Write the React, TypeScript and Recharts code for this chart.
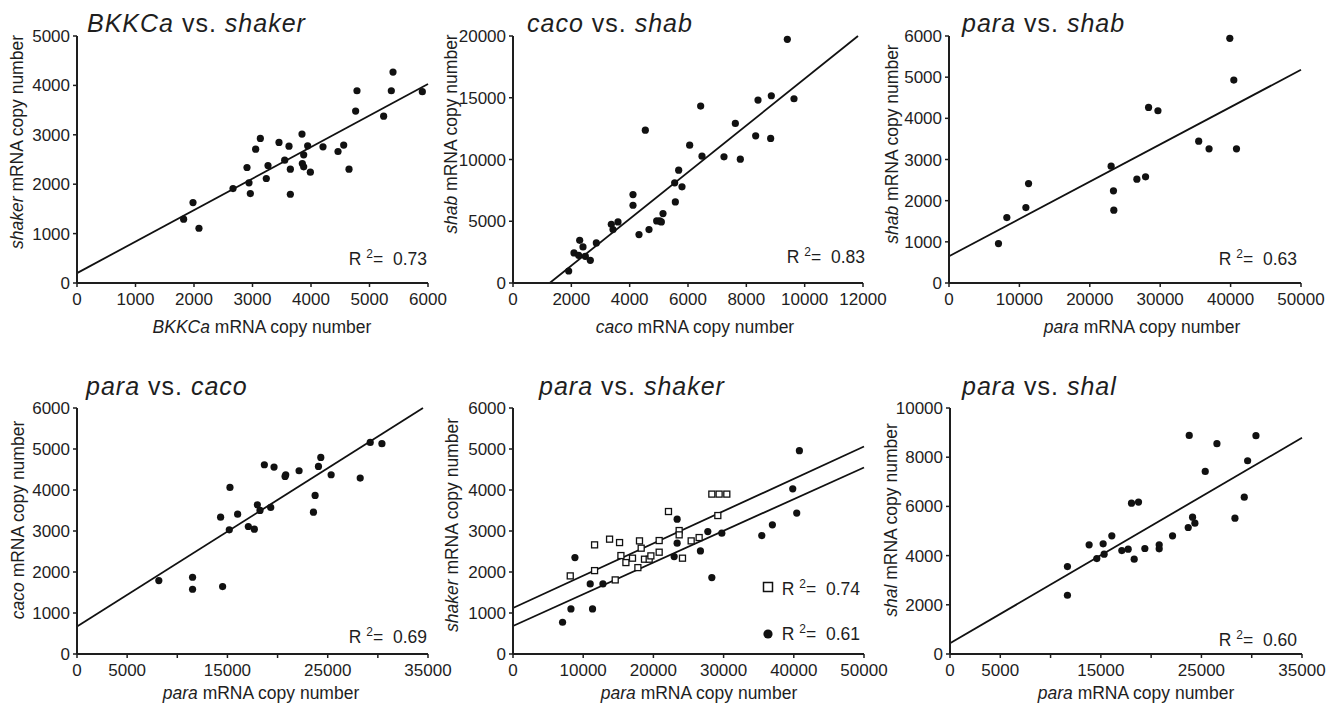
import React from 'react';
import { ScatterChart, Scatter, XAxis, YAxis, ReferenceLine } from 'recharts';

// ---------- Panel 1: BKKCa vs. shaker ----------
const p1X = [1823, 1983, 2085, 2667, 2906, 2940, 2963, 3054, 3134, 3236, 3265, 3453, 3550, 3624, 3647, 3647, 3846, 3852, 3875, 3875, 3943, 3989, 4205, 4462, 4559, 4650, 4763, 4786, 5242, 5373, 5402, 5903];
const p1Y = [1291, 1628, 1108, 1912, 2338, 2027, 1811, 2709, 2926, 2115, 2378, 2845, 2486, 2770, 2304, 1797, 3014, 2419, 2595, 2351, 2777, 2243, 2757, 2662, 2791, 2304, 3480, 3892, 3378, 3892, 4270, 3872];
const p1Line = [[0, 200], [6000, 4028]];
const p1XTicks = [0, 1000, 2000, 3000, 4000, 5000, 6000];
const p1YTicks = [0, 1000, 2000, 3000, 4000, 5000];

// ---------- Panel 2: caco vs. shab ----------
const p2X = [1909, 2091, 2286, 2400, 2251, 2480, 2651, 2857, 3371, 3429, 3600, 4114, 4114, 4320, 4537, 4663, 4926, 5029, 5086, 5143, 5543, 5566, 5680, 5794, 6057, 6434, 6480, 7234, 7623, 7794, 8320, 8400, 8834, 8857, 9406, 9634];
const p2Y = [973, 2432, 3459, 2919, 2243, 2162, 1838, 3243, 4757, 4324, 4946, 7162, 6297, 3919, 12378, 4324, 5027, 5027, 4946, 5622, 8108, 6568, 9135, 7784, 11162, 14324, 10270, 10216, 12919, 10027, 11919, 14811, 11703, 15162, 19730, 14919];
const p2Line = [[1257, 0], [11829, 20000]];
const p2XTicks = [0, 2000, 4000, 6000, 8000, 10000, 12000];
const p2YTicks = [0, 5000, 10000, 15000, 20000];

// ---------- Panel 3: para vs. shab ----------
const p3X = [7028, 8215, 10921, 11301, 23029, 23362, 23409, 26686, 27920, 28348, 29677, 35470, 36942, 39886, 40456, 40836];
const p3Y = [957, 1589, 1832, 2416, 2838, 2238, 1768, 2522, 2578, 4265, 4184, 3446, 3259, 5943, 4930, 3259];
const p3Line = [[0, 650], [50000, 5180]];
const p3XTicks = [0, 10000, 20000, 30000, 40000, 50000];
const p3YTicks = [0, 1000, 2000, 3000, 4000, 5000, 6000];

// ---------- Panel 4: para vs. caco ----------
const p4X = [8159, 11522, 11522, 14319, 14519, 15185, 15252, 16018, 17084, 17683, 17983, 18249, 18682, 19315, 19648, 20814, 20747, 22145, 23577, 23744, 24077, 24310, 25342, 28240, 29239, 30404];
const p4Y = [1791, 1872, 1579, 3338, 1645, 3028, 4062, 3411, 3110, 3045, 3639, 3501, 4616, 3574, 4559, 4372, 4331, 4469, 3460, 3867, 4575, 4795, 4372, 4290, 5161, 5129];
const p4Line = [[0, 668], [34500, 6000]];
const p4XTicks = [0, 5000, 10000, 15000, 20000, 25000, 30000, 35000];
const p4XLabels = [0, 5000, 15000, 25000, 35000];
const p4YTicks = [0, 1000, 2000, 3000, 4000, 5000, 6000];

// ---------- Panel 5: para vs. shaker (two groups) ----------
const p5SqX = [8154, 11620, 11620, 13756, 15179, 14561, 15372, 16084, 17023, 18019, 18260, 17791, 18730, 19399, 19641, 20822, 20822, 22147, 23669, 23669, 24143, 25380, 26516, 28324, 29363, 30457, 29178];
const p5SqY = [1905, 2662, 2034, 2801, 2718, 1807, 2401, 2230, 2337, 2759, 2581, 2107, 2312, 2312, 2393, 2767, 2483, 3475, 3011, 2906, 2337, 2759, 2840, 3900, 3900, 3900, 3377];
const p5DotX = [7059, 8254, 8823, 11000, 11330, 12810, 22958, 23384, 23384, 26700, 27750, 28324, 29743, 35437, 36949, 39849, 40418, 40797];
const p5DotY = [774, 1099, 2352, 1709, 1099, 1709, 2376, 3289, 2703, 2515, 2987, 1863, 2947, 2889, 3150, 4029, 3436, 4958];
const p5SqLine = [[0, 1123], [50000, 5062]];
const p5DotLine = [[0, 684], [50000, 4550]];
const p5XTicks = [0, 10000, 20000, 30000, 40000, 50000];
const p5YTicks = [0, 1000, 2000, 3000, 4000, 5000, 6000];

// ---------- Panel 6: para vs. shal ----------
const p6X = [11677, 11677, 13834, 14598, 15228, 15327, 16090, 17085, 17716, 18047, 18313, 18744, 19374, 20801, 20801, 22128, 23687, 23787, 24119, 24351, 25379, 26540, 28332, 29261, 29593, 30422];
const p6Y = [3555, 2388, 4437, 3881, 4478, 4057, 4803, 4206, 4261, 6133, 3853, 6174, 4288, 4437, 4274, 4803, 5142, 8887, 5563, 5319, 7422, 8548, 5522, 6377, 7856, 8874];
const p6Line = [[0, 434], [35000, 8790]];
const p6XTicks = [0, 5000, 10000, 15000, 20000, 25000, 30000, 35000];
const p6XLabels = [0, 5000, 15000, 25000, 35000];
const p6YTicks = [0, 2000, 4000, 6000, 8000, 10000];

// R² labels
const r2Values = ['0.73', '0.83', '0.63', '0.69', '0.74', '0.61', '0.60'];

const FONT = '"Liberation Sans", Arial, Helvetica, sans-serif';
const INK = '#1e1e1e';

const zip = (xs: number[], ys: number[]) => xs.map((x, i) => ({ x, y: ys[i] }));
const seg = (l: number[][]) => [{ x: l[0][0], y: l[0][1] }, { x: l[1][0], y: l[1][1] }];

const DotShape = (p: any) => <circle cx={p.cx} cy={p.cy} r={3.6} fill="#111" />;
const SquareShape = (p: any) => (
  <rect x={p.cx - 3} y={p.cy - 3} width={6} height={6} fill="#fff" stroke="#111" strokeWidth={1.3} />
);

type Series = { data: { x: number; y: number }[]; shape: any };
type PanelProps = {
  plot: [number, number, number, number]; // left, right, top, bottom
  xMax: number;
  yMax: number;
  xTicks: number[];
  xLabels?: number[];
  yTicks: number[];
  series: Series[];
  lines: number[][][];
};

const ML = 70, MR = 35, MT = 12, MB = 30;

function Panel({ plot, xMax, yMax, xTicks, xLabels, yTicks, series, lines }: PanelProps) {
  const [pl, pr, pt, pb] = plot;
  const w = pr - pl + ML + MR;
  const h = pb - pt + MT + MB;
  const tickStyle = { fontSize: 17, fill: INK, fontFamily: FONT };
  return (
    <div style={{ position: 'absolute', left: pl - ML, top: pt - MT, width: w, height: h }}>
      <ScatterChart width={w} height={h} margin={{ top: MT, right: MR, bottom: 0, left: 0 }}>
        <XAxis
          type="number"
          dataKey="x"
          domain={[0, xMax]}
          ticks={xTicks}
          interval={0}
          height={MB}
          tick={tickStyle}
          tickSize={4}
          tickMargin={6}
          axisLine={{ stroke: INK, strokeWidth: 2 }}
          tickLine={{ stroke: INK, strokeWidth: 1.5 }}
          tickFormatter={(v: number) => (xLabels && !xLabels.includes(v) ? '' : String(v))}
        />
        <YAxis
          type="number"
          dataKey="y"
          domain={[0, yMax]}
          ticks={yTicks}
          interval={0}
          width={ML}
          tick={tickStyle}
          tickSize={4}
          tickMargin={3}
          axisLine={{ stroke: INK, strokeWidth: 2 }}
          tickLine={{ stroke: INK, strokeWidth: 1.5 }}
        />
        {lines.map((l, i) => (
          <ReferenceLine key={'l' + i} segment={seg(l)} stroke="#111" strokeWidth={1.8} />
        ))}
        {series.map((s, i) => (
          <Scatter key={'s' + i} data={s.data} shape={s.shape} isAnimationActive={false} />
        ))}
      </ScatterChart>
    </div>
  );
}

const Title = ({ x, y, a, b }: { x: number; y: number; a: string; b: string }) => (
  <text x={x} y={y} fontSize={25} letterSpacing={1} fill={INK} style={{ whiteSpace: 'pre' }}>
    <tspan fontStyle="italic">{a}</tspan>
    <tspan> vs. </tspan>
    <tspan fontStyle="italic">{b}</tspan>
  </text>
);

const XLabel = ({ cx, y, gene }: { cx: number; y: number; gene: string }) => (
  <text x={cx} y={y} fontSize={17.5} textAnchor="middle" fill={INK} style={{ whiteSpace: 'pre' }}>
    <tspan fontStyle="italic">{gene}</tspan>
    <tspan> mRNA copy number</tspan>
  </text>
);

const YLabel = ({ bx, cy, gene }: { bx: number; cy: number; gene: string }) => (
  <text
    transform={`translate(${bx},${cy}) rotate(-90)`}
    fontSize={17.5}
    textAnchor="middle"
    fill={INK}
    style={{ whiteSpace: 'pre' }}
  >
    <tspan fontStyle="italic">{gene}</tspan>
    <tspan> mRNA copy number</tspan>
  </text>
);

const R2 = ({ x, y, v }: { x: number; y: number; v: string }) => (
  <text x={x} y={y} fontSize={17.5} textAnchor="end" fill={INK} style={{ whiteSpace: 'pre' }}>
    <tspan>R </tspan>
    <tspan fontSize={12} dy={-7}>2</tspan>
    <tspan dy={7}>=  {v}</tspan>
  </text>
);

export default function App() {
  return (
    <div
      style={{
        position: 'absolute',
        left: 0,
        top: 0,
        width: 1334,
        height: 705,
        background: '#fff',
        fontFamily: FONT,
        overflow: 'hidden',
      }}
    >
      <Panel
        plot={[77, 428, 36, 283]}
        xMax={6000}
        yMax={5000}
        xTicks={p1XTicks}
        yTicks={p1YTicks}
        series={[{ data: zip(p1X, p1Y), shape: DotShape }]}
        lines={[p1Line]}
      />
      <Panel
        plot={[513, 863, 36, 283]}
        xMax={12000}
        yMax={20000}
        xTicks={p2XTicks}
        yTicks={p2YTicks}
        series={[{ data: zip(p2X, p2Y), shape: DotShape }]}
        lines={[p2Line]}
      />
      <Panel
        plot={[949, 1301, 36, 283]}
        xMax={50000}
        yMax={6000}
        xTicks={p3XTicks}
        yTicks={p3YTicks}
        series={[{ data: zip(p3X, p3Y), shape: DotShape }]}
        lines={[p3Line]}
      />
      <Panel
        plot={[77, 428, 408, 654]}
        xMax={35000}
        yMax={6000}
        xTicks={p4XTicks}
        xLabels={p4XLabels}
        yTicks={p4YTicks}
        series={[{ data: zip(p4X, p4Y), shape: DotShape }]}
        lines={[p4Line]}
      />
      <Panel
        plot={[513, 864, 408, 654]}
        xMax={50000}
        yMax={6000}
        xTicks={p5XTicks}
        yTicks={p5YTicks}
        series={[
          { data: zip(p5SqX, p5SqY), shape: SquareShape },
          { data: zip(p5DotX, p5DotY), shape: DotShape },
        ]}
        lines={[p5SqLine, p5DotLine]}
      />
      <Panel
        plot={[950, 1302, 408, 654]}
        xMax={35000}
        yMax={10000}
        xTicks={p6XTicks}
        xLabels={p6XLabels}
        yTicks={p6YTicks}
        series={[{ data: zip(p6X, p6Y), shape: DotShape }]}
        lines={[p6Line]}
      />
      <svg
        width={1334}
        height={705}
        style={{ position: 'absolute', left: 0, top: 0, pointerEvents: 'none', fontFamily: FONT }}
      >
        <Title x={87} y={32} a="BKKCa" b="shaker" />
        <Title x={527} y={32} a="caco" b="shab" />
        <Title x={962} y={32} a="para" b="shab" />
        <Title x={86} y={395} a="para" b="caco" />
        <Title x={539} y={395} a="para" b="shaker" />
        <Title x={962} y={395} a="para" b="shal" />

        <XLabel cx={262} y={333} gene="BKKCa" />
        <XLabel cx={695} y={333} gene="caco" />
        <XLabel cx={1142} y={333} gene="para" />
        <XLabel cx={261} y={699} gene="para" />
        <XLabel cx={699} y={699} gene="para" />
        <XLabel cx={1136} y={699} gene="para" />

        <YLabel bx={23} cy={142} gene="shaker" />
        <YLabel bx={457} cy={134} gene="shab" />
        <YLabel bx={898} cy={144} gene="shab" />
        <YLabel bx={24} cy={520} gene="caco" />
        <YLabel bx={458} cy={525} gene="shaker" />
        <YLabel bx={897} cy={520} gene="shal" />

        <R2 x={427} y={265} v={r2Values[0]} />
        <R2 x={865} y={263} v={r2Values[1]} />
        <R2 x={1297} y={265} v={r2Values[2]} />
        <R2 x={427} y={643} v={r2Values[3]} />
        <R2 x={860} y={595} v={r2Values[4]} />
        <R2 x={860} y={640} v={r2Values[5]} />
        <R2 x={1297} y={646} v={r2Values[6]} />
        <rect x={763.5} y={582.5} width={9} height={9} fill="#fff" stroke="#111" strokeWidth={1.5} />
        <circle cx={768} cy={634} r={4.6} fill="#111" />
      </svg>
    </div>
  );
}
